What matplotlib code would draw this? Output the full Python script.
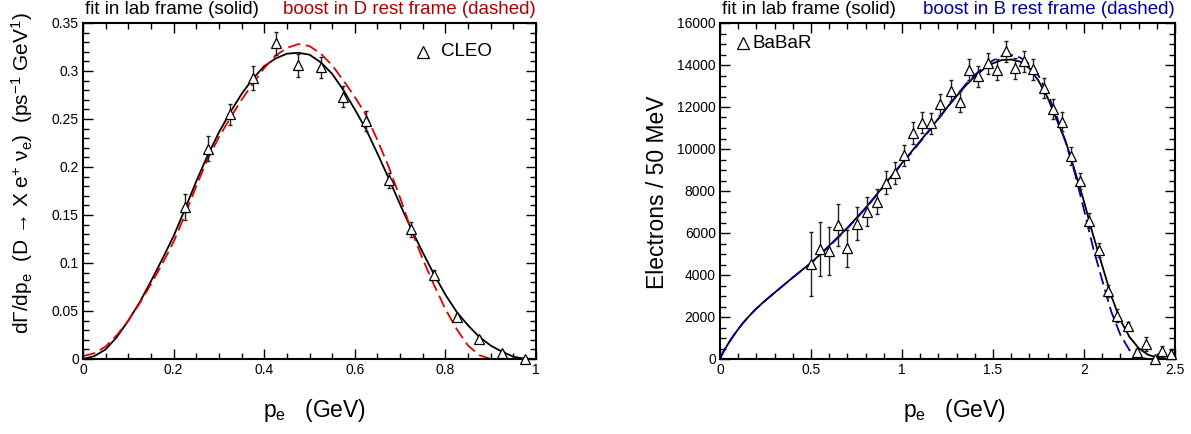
import matplotlib
matplotlib.use("Agg")
import matplotlib.pyplot as plt
from matplotlib.ticker import MultipleLocator, FuncFormatter

plt.rcParams['font.family'] = ['Liberation Sans', 'DejaVu Sans']
plt.rcParams['mathtext.default'] = 'regular'

# ---------------- CLEO (left) ----------------
cleo_p = [0.225, 0.275, 0.325, 0.375, 0.425, 0.475, 0.525, 0.575, 0.625, 0.675,
          0.725, 0.775, 0.825, 0.875, 0.925, 0.975]
cleo_rate = [0.158, 0.219, 0.255, 0.293, 0.329, 0.306, 0.304, 0.273, 0.248, 0.186,
             0.135, 0.0875, 0.044, 0.021, 0.006, 0.0]
cleo_err = [0.0135, 0.013, 0.011, 0.0125, 0.012, 0.012, 0.011, 0.011, 0.0105, 0.008,
            0.008, 0.005, 0.003, 0.003, 0.002, 0.002]

fit_p = [0.0, 0.025, 0.05, 0.075, 0.1, 0.125, 0.15, 0.175, 0.2, 0.225, 0.25, 0.275,
         0.3, 0.325, 0.35, 0.375, 0.4, 0.425, 0.45, 0.475, 0.5, 0.525, 0.55, 0.575,
         0.6, 0.625, 0.65, 0.675, 0.7, 0.725, 0.75, 0.775, 0.8, 0.825, 0.85, 0.875,
         0.9, 0.925, 0.95, 0.975, 1.0]
lab_fit = [0.0, 0.003, 0.010, 0.023, 0.040, 0.059, 0.081, 0.104, 0.128, 0.156, 0.185,
           0.212, 0.236, 0.257, 0.276, 0.292, 0.305, 0.313, 0.318, 0.319, 0.317, 0.309,
           0.297, 0.280, 0.260, 0.239, 0.214, 0.188, 0.161, 0.135, 0.111, 0.088, 0.067,
           0.049, 0.035, 0.023, 0.014, 0.0076, 0.0024, 0.0003, 0.0]
boost_p = [0.0, 0.025, 0.05, 0.075, 0.1, 0.125, 0.15, 0.175, 0.2, 0.225, 0.25, 0.275,
           0.3, 0.325, 0.35, 0.375, 0.4, 0.425, 0.45, 0.475, 0.5, 0.525, 0.55, 0.575,
           0.6, 0.625, 0.65, 0.675, 0.7, 0.725, 0.75, 0.775, 0.8, 0.825, 0.85, 0.875, 0.9]
boost_fit = [0.003, 0.006, 0.013, 0.025, 0.040, 0.058, 0.078, 0.099, 0.122, 0.150,
             0.180, 0.208, 0.231, 0.251, 0.270, 0.287, 0.303, 0.316, 0.324, 0.328,
             0.326, 0.318, 0.306, 0.290, 0.273, 0.254, 0.228, 0.200, 0.168, 0.134,
             0.104, 0.077, 0.052, 0.031, 0.014, 0.004, 0.0]

# ---------------- BaBar (right) ----------------
babar_p = [0.50, 0.55, 0.60, 0.65, 0.70, 0.75, 0.81, 0.86, 0.91, 0.96, 1.01, 1.06,
           1.11, 1.16, 1.21, 1.27, 1.32, 1.37, 1.42, 1.47, 1.52, 1.57, 1.62, 1.67,
           1.72, 1.78, 1.83, 1.88, 1.93, 1.98, 2.03, 2.08, 2.13, 2.18, 2.24, 2.29,
           2.34, 2.39, 2.43, 2.48]
babar_n = [4524, 5238, 5143, 6381, 5270, 6444, 7016, 7492, 8397, 8843, 9700, 10746,
           11240, 11222, 12140, 12778, 12240, 13762, 13460, 14079, 13778, 14650, 13841,
           14175, 13800, 12889, 11900, 11302, 9667, 8476, 6580, 5190, 3250, 2060, 1571,
           320, 714, 0, 370, 230]
babar_err = [1530, 1290, 1120, 1000, 870, 780, 700, 580, 550, 520, 500, 520, 500, 500,
             500, 500, 500, 500, 500, 500, 500, 500, 500, 500, 500, 480, 460, 440, 420,
             400, 350, 330, 290, 320, 200, 150, 320, 100, 260, 200]

bfit_p = [0.0, 0.01, 0.025, 0.05, 0.075, 0.1, 0.125, 0.15, 0.175, 0.2, 0.25, 0.3, 0.35,
          0.4, 0.45, 0.5, 0.55, 0.6, 0.65, 0.7, 0.75, 0.8, 0.85, 0.9, 0.95, 1.0, 1.05,
          1.1, 1.15, 1.2, 1.25, 1.3, 1.35, 1.4, 1.45, 1.5, 1.55, 1.6, 1.65, 1.7, 1.75,
          1.8, 1.85, 1.9, 1.95, 2.0, 2.05, 2.1, 2.15, 2.2, 2.25, 2.3, 2.35, 2.4, 2.45, 2.5]
blab_fit = [0, 200, 440, 800, 1120, 1420, 1700, 1950, 2180, 2400, 2800, 3160, 3520,
            3880, 4230, 4580, 4980, 5400, 5820, 6250, 6720, 7200, 7720, 8250, 8800, 9330,
            9850, 10380, 10900, 11450, 12000, 12520, 13020, 13450, 13820, 14080, 14240,
            14260, 14160, 13850, 13250, 12450, 11400, 10350, 8950, 7500, 5900, 4450,
            3000, 1850, 1050, 520, 210, 70, 15, 0]
bboost_fit = [0, 200, 440, 800, 1120, 1420, 1700, 1950, 2180, 2400, 2790, 3150, 3520,
              3880, 4230, 4560, 4950, 5370, 5790, 6220, 6690, 7170, 7690, 8220, 8770,
              9290, 9810, 10340, 10870, 11430, 12000, 12550, 13080, 13520, 13920, 14220,
              14430, 14480, 14350, 14050, 13500, 12650, 11550, 10300, 8850, 7100, 5300,
              3750, 2250, 1150, 420, 80, 0, 0, 0, 0]

W, H = 1191, 434
fig = plt.figure(figsize=(W / 100, H / 100), dpi=100)
ax1 = fig.add_axes([83 / W, 75 / H, 453 / W, 336 / H])
ax2 = fig.add_axes([720 / W, 75 / H, 455 / W, 336 / H])

red_line = '#e00000'
red_text = '#b00000'
blue = '#0000a0'


def style(ax, xmaj, xmin, ymaj, ymin, lsize):
    ax.xaxis.set_major_locator(MultipleLocator(xmaj))
    ax.xaxis.set_minor_locator(MultipleLocator(xmin))
    ax.yaxis.set_major_locator(MultipleLocator(ymaj))
    ax.yaxis.set_minor_locator(MultipleLocator(ymin))
    fmt = FuncFormatter(lambda v, pos: '%g' % round(v, 6))
    ax.xaxis.set_major_formatter(fmt)
    ax.yaxis.set_major_formatter(fmt)
    ax.tick_params(which='both', direction='in', top=True, right=True, width=1.0,
                   labelsize=lsize, colors='black')
    ax.tick_params(which='major', length=7.5, pad=3)
    ax.tick_params(which='minor', length=4)
    for s in ax.spines.values():
        s.set_linewidth(1.5)


# Left panel
ax1.errorbar(cleo_p, cleo_rate, yerr=cleo_err, fmt='none', ecolor='#202020',
             elinewidth=1.0, capsize=1.5, capthick=1.0, zorder=3)
ax1.plot(fit_p, lab_fit, color='black', lw=1.3, zorder=2)
ax1.plot(boost_p, boost_fit, color=red_line, lw=1.3, dashes=(7, 3), zorder=2)
ax1.plot(cleo_p, cleo_rate, linestyle='none', marker='^', ms=7, mfc='white',
         mec='black', mew=0.9, zorder=4, clip_on=False)
ax1.set_xlim(0, 1)
ax1.set_ylim(0, 0.35)
style(ax1, 0.2, 0.05, 0.05, 0.01, 10)
ax1.plot([0.751], [0.914], transform=ax1.transAxes, linestyle='none', marker='^',
         ms=9, mfc='white', mec='black', mew=0.9)
ax1.text(0.79, 0.914, 'CLEO', transform=ax1.transAxes, fontsize=13.5,
         va='center', ha='left')

# Right panel
ax2.errorbar(babar_p, babar_n, yerr=babar_err, fmt='none', ecolor='#202020',
             elinewidth=1.0, capsize=1.5, capthick=1.0, zorder=3)
ax2.plot(bfit_p, blab_fit, color='black', lw=1.3, zorder=2)
ax2.plot(bfit_p, bboost_fit, color=blue, lw=1.3, dashes=(7, 3), zorder=2)
ax2.plot(babar_p, babar_n, linestyle='none', marker='^', ms=7, mfc='white',
         mec='black', mew=0.9, zorder=4, clip_on=False)
ax2.set_xlim(0, 2.5)
ax2.set_ylim(0, 16000)
style(ax2, 0.5, 0.1, 2000, 500, 10)
ax2.plot([0.05], [0.94], transform=ax2.transAxes, linestyle='none', marker='^',
         ms=9, mfc='white', mec='black', mew=0.9)
ax2.text(0.072, 0.94, 'BaBaR', transform=ax2.transAxes, fontsize=13.5,
         va='center', ha='left')

# Titles
ty = 1 - 13.5 / H
fig.text(85 / W, ty, 'fit in lab frame (solid)', fontsize=13.5, va='baseline', ha='left')
fig.text(536 / W, ty, 'boost in D rest frame (dashed)', fontsize=13.5, va='baseline',
         ha='right', color=red_text)
fig.text(722 / W, ty, 'fit in lab frame (solid)', fontsize=13.5, va='baseline', ha='left')
fig.text(1175 / W, ty, 'boost in B rest frame (dashed)', fontsize=13.5, va='baseline',
         ha='right', color=blue)

# Axis labels
xl = r'p$_{e}$   (GeV)'
fig.text(315 / W, 1 - 410 / H, xl, fontsize=16.5, ha='center', va='center')
fig.text(955 / W, 1 - 410 / H, xl, fontsize=16.5, ha='center', va='center')
fig.text(22 / W, 1 - 173 / H,
         'dΓ/dp$_{e}$  (D → X e$^{+}$ ν$_{e}$)  (ps$^{-1}$ GeV$^{1}$)',
         fontsize=15, rotation=90, ha='center', va='center')
fig.text(658 / W, 1 - 192 / H, 'Electrons / 50 MeV', fontsize=16.5, rotation=90,
         ha='center', va='center')

fig.savefig('out.png', dpi=100)
